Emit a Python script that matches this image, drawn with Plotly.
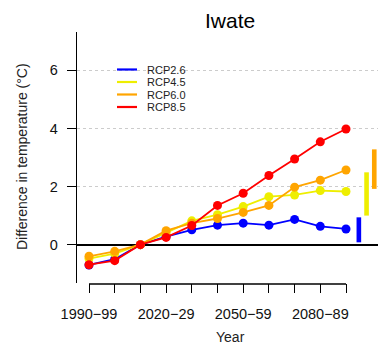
import plotly.graph_objects as go

periods = ["1990−99", "2000−09", "2010−19", "2020−29", "2030−39", "2040−49",
           "2050−59", "2060−69", "2070−79", "2080−89", "2090−99"]
shown_labels = ["1990−99", "2020−29", "2050−59", "2080−89"]
x_idx = list(range(1, 12))

scenarios = ["RCP2.6", "RCP4.5", "RCP6.0", "RCP8.5"]
colors = ["#0000FF", "#EEEE00", "#FFA500", "#FF0000"]

rcp26 = [-0.70, -0.50, 0.0, 0.28, 0.51, 0.67, 0.74, 0.67, 0.87, 0.63, 0.54]
rcp45 = [-0.48, -0.31, 0.0, 0.42, 0.82, 1.03, 1.31, 1.65, 1.71, 1.86, 1.83]
rcp60 = [-0.40, -0.23, 0.0, 0.48, 0.74, 0.90, 1.11, 1.35, 1.98, 2.22, 2.57]
rcp85 = [-0.69, -0.55, 0.0, 0.25, 0.66, 1.35, 1.77, 2.38, 2.95, 3.54, 3.98]
series = [rcp26, rcp45, rcp60, rcp85]

# end-of-century range bars (low, high) and their x positions
bar_x = [11.5, 11.8, 12.1]
bar_low = [0.08, 1.00, 1.92]
bar_high = [0.94, 2.49, 3.28]

yticks = [0, 2, 4, 6]

FONT = "Liberation Sans, Arial, Helvetica, sans-serif"

fig = go.Figure()

for name, col, vals in zip(scenarios, colors, series):
    fig.add_trace(go.Scatter(
        x=x_idx, y=vals, mode="lines+markers", name=name,
        line=dict(color=col, width=1.8),
        marker=dict(color=col, size=9, line=dict(width=0)),
        showlegend=False, cliponaxis=False))

for bx, lo, hi, col in zip(bar_x, bar_low, bar_high, colors):
    fig.add_trace(go.Bar(x=[bx], y=[hi - lo], base=[lo], width=0.18,
                         marker=dict(color=col, line=dict(width=0)),
                         showlegend=False))

# plot area pixel geometry
L, R, T, B = 77, 378, 32, 283
W, H = R - L, B - T

def px(xpix):
    return (xpix - L) / W

def py(ypix):
    return (B - ypix) / H

shapes = []
# x axis line from first to last tick
shapes.append(dict(type="line", xref="x", yref="paper", x0=1, x1=11, y0=-0.004, y1=-0.004,
                   line=dict(color="black", width=1.3)))

annotations = []
# legend
leg_y = [69.5, 82, 94.5, 107]
for name, col, yy in zip(scenarios, colors, leg_y):
    shapes.append(dict(type="line", xref="paper", yref="paper",
                       x0=px(117), x1=px(137), y0=py(yy), y1=py(yy),
                       line=dict(color=col, width=2.2)))
    annotations.append(dict(text=name, xref="paper", yref="paper", x=px(145), y=py(yy),
                            xanchor="left", yanchor="middle", showarrow=False,
                            font=dict(size=11, color="#222222", family=FONT)))

annotations.append(dict(text="Iwate", xref="paper", yref="paper", x=px(230), y=py(20),
                        xanchor="center", yanchor="middle", showarrow=False,
                        font=dict(size=21, color="black", family=FONT)))
annotations.append(dict(text="Year", xref="paper", yref="paper", x=px(230), y=py(337),
                        xanchor="center", yanchor="middle", showarrow=False,
                        font=dict(size=14, color="#222222", family=FONT)))
annotations.append(dict(text="Difference in temperature (°C)", xref="paper", yref="paper",
                        x=px(22), y=py(157), textangle=-90,
                        xanchor="center", yanchor="middle", showarrow=False,
                        font=dict(size=14, color="#222222", family=FONT)))

ticktext = [p if p in shown_labels else "" for p in periods]

x0 = 1 - (89 - L) / 25.7
x1 = x0 + W / 25.7

fig.update_layout(
    width=378, height=349,
    margin=dict(l=L, r=378 - R, t=T, b=349 - B, pad=0),
    paper_bgcolor="white", plot_bgcolor="white",
    barmode="overlay",
    showlegend=False,
    shapes=shapes, annotations=annotations,
    font=dict(family=FONT, size=14, color="#222222"),
    xaxis=dict(range=[x0, x1], tickmode="array", tickvals=x_idx, ticktext=ticktext,
               ticks="outside", ticklen=9, tickwidth=1.3, tickcolor="black",
               showline=False, showgrid=False, zeroline=False,
               tickfont=dict(size=14.5, color="#111111"), ticklabelstandoff=9),
    yaxis=dict(range=[-1.32, 7.32], tickmode="array", tickvals=yticks,
               ticks="outside", ticklen=9, tickwidth=1.3, tickcolor="black",
               showline=True, linecolor="black", linewidth=1.3,
               showgrid=True, gridcolor="#CCCCCC", gridwidth=1, griddash="3px,3px",
               zeroline=True, zerolinecolor="black", zerolinewidth=1.5,
               tickfont=dict(size=14.5, color="#111111"), ticklabelstandoff=6),
)

fig.write_html("out.html")
